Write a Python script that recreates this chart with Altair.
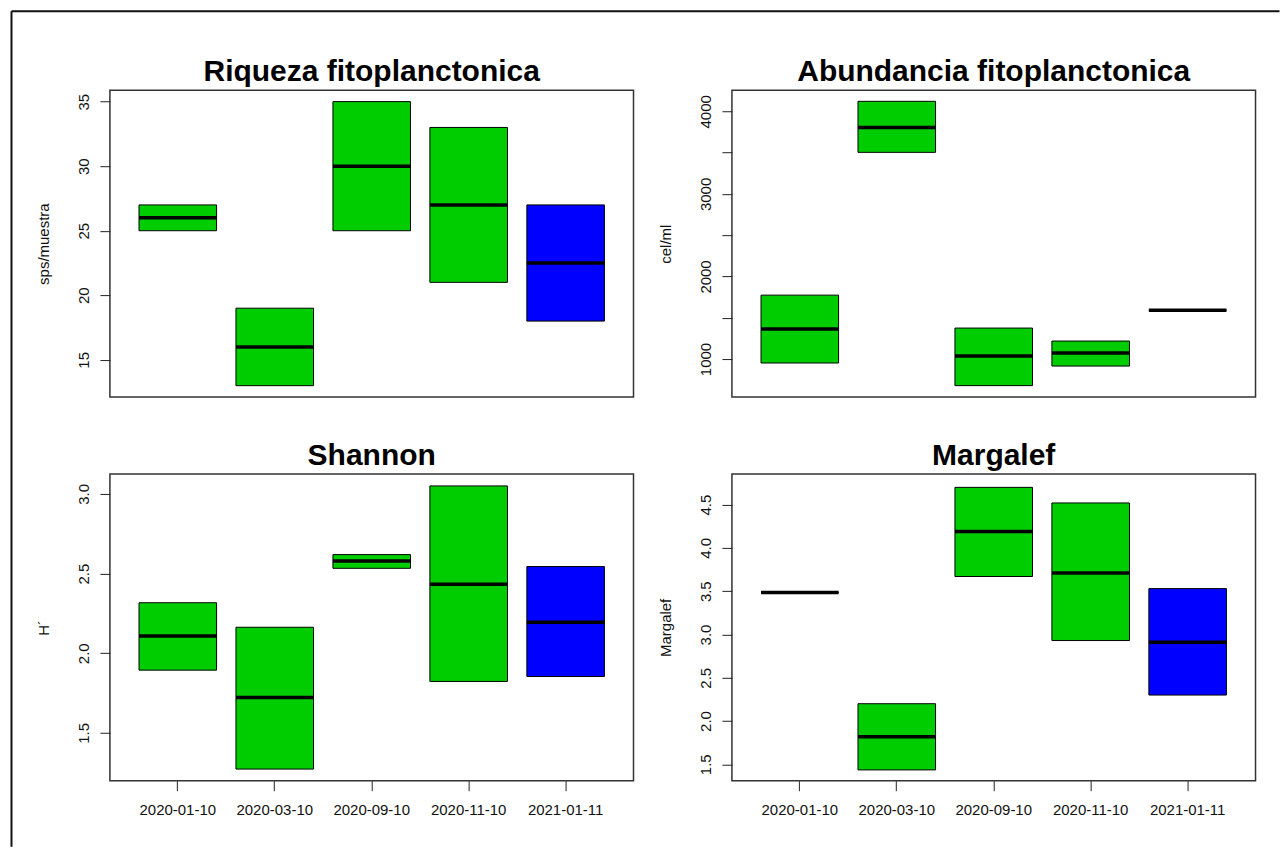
import altair as alt
import pandas as pd

# Sampling dates and box colours
fechas = ["2020-01-10", "2020-03-10", "2020-09-10", "2020-11-10", "2021-01-11"]
colores = ["#00CD00", "#00CD00", "#00CD00", "#00CD00", "#0000FF"]

# Riqueza (sps/muestra): lower edge, median, upper edge
riq_min = [25, 13, 25, 21, 18]
riq_med = [26, 16, 30, 27, 22.5]
riq_max = [27, 19, 35, 33, 27]

# Abundancia (cel/ml)
abu_min = [952, 3503, 678, 915, 1592]
abu_med = [1363, 3805, 1036, 1073, 1592]
abu_max = [1774, 4121, 1375, 1218, 1592]

# Shannon H'
sha_min = [1.894, 1.273, 2.533, 1.823, 1.854]
sha_med = [2.108, 1.723, 2.579, 2.433, 2.194]
sha_max = [2.317, 2.163, 2.619, 3.05, 2.544]

# Margalef
mar_min = [3.485, 1.435, 3.67, 2.93, 2.30]
mar_med = [3.485, 1.819, 4.19, 3.71, 2.91]
mar_max = [3.485, 2.20, 4.70, 4.52, 3.53]

# Axis ticks and limits
riq_ticks = [15, 20, 25, 30, 35]
abu_ticks = [1000, 1500, 2000, 2500, 3000, 3500, 4000]
sha_ticks = [1.5, 2.0, 2.5, 3.0]
mar_ticks = [1.5, 2.0, 2.5, 3.0, 3.5, 4.0, 4.5]
riq_lim = [12.12, 35.88]
abu_lim = [540, 4255]
sha_lim = [1.2, 3.125]
mar_lim = [1.31, 4.855]

W, H = 524, 307
FONT = "Liberation Sans"
TXT = "#111111"


def panel(titulo, ytitulo, lo, med, hi, lim, ticks, fmt, label_expr=None,
          show_x=False, marco=False):
    df = pd.DataFrame({"fecha": fechas, "lo": lo, "med": med, "hi": hi,
                       "color": colores})
    xscale = alt.Scale(domain=fechas, paddingInner=0.2, paddingOuter=0.3)
    yscale = alt.Scale(domain=lim, nice=False, zero=False)
    if show_x:
        xaxis = alt.Axis(title=None, labelAngle=0, tickSize=10, labelPadding=19,
                         labelFontSize=15, labelBaseline="middle", domain=False,
                         grid=False, tickColor="#222", labelColor=TXT, labelFont=FONT)
    else:
        xaxis = None
    ykw = dict(title=ytitulo, values=ticks, format=fmt, labelAngle=-90,
               labelAlign="center", labelBaseline="middle", labelPadding=16,
               tickSize=10, labelFontSize=15, titleFontSize=15,
               titleFontWeight="normal", titleAngle=-90, titleAlign="center",
               titleBaseline="middle", titleX=-66, titleY=H / 2, domain=False,
               grid=False, tickColor="#222", labelColor=TXT, titleColor=TXT,
               labelFont=FONT, titleFont=FONT, labelOverlap=False)
    if label_expr:
        ykw["labelExpr"] = label_expr
    yaxis = alt.Axis(**ykw)

    base = alt.Chart(df)
    cajas = base.mark_bar(stroke="black", strokeWidth=1).encode(
        x=alt.X("fecha:N", scale=xscale, axis=xaxis, sort=fechas),
        y=alt.Y("lo:Q", scale=yscale, axis=yaxis),
        y2="hi:Q",
        fill=alt.Fill("color:N", scale=None),
    )
    medianas = base.mark_tick(color="black", thickness=3.5, size=77.6, opacity=1).encode(
        x=alt.X("fecha:N", scale=xscale, axis=xaxis, sort=fechas),
        y=alt.Y("med:Q", scale=yscale, axis=yaxis),
    )
    capas = [cajas, medianas]
    # the outer frame widens this panel's bounds upward; the title is shifted back
    dy = 29
    if marco:
        uno = pd.DataFrame({"k": [0]})
        marco_v = alt.Chart(uno).mark_rule(color="#111", strokeWidth=2).encode(
            x=alt.value(-98.5), y=alt.value(-79), y2=alt.value(757))
        marco_h = alt.Chart(uno).mark_rule(color="#111", strokeWidth=2).encode(
            x=alt.value(-98.5), x2=alt.value(1170.5), y=alt.value(-79))
        capas += [marco_v, marco_h]
        dy = 29 + 80
    return alt.layer(*capas).properties(
        width=W, height=H,
        title=alt.TitleParams(text=titulo, fontSize=30, fontWeight="bold",
                              font=FONT, anchor="middle", baseline="alphabetic",
                              offset=8, dy=dy, color="black"),
    )


p1 = panel("Riqueza fitoplanctonica", "sps/muestra", riq_min, riq_med, riq_max,
           riq_lim, riq_ticks, "d", marco=True)
p2 = panel("Abundancia fitoplanctonica", "cel/ml", abu_min, abu_med, abu_max,
           abu_lim, abu_ticks, "d",
           label_expr="datum.value % 1000 == 0 ? datum.label : ''")
p3 = panel("Shannon", "H´", sha_min, sha_med, sha_max, sha_lim, sha_ticks, ".1f",
           show_x=True)
p4 = panel("Margalef", "Margalef", mar_min, mar_med, mar_max, mar_lim, mar_ticks,
           ".1f", show_x=True)

chart = alt.concat(
    p1, p2, p3, p4, columns=2, spacing={"row": 77, "column": 98.5}, bounds="flush"
).properties(
    padding={"left": 9, "top": 9, "right": 0, "bottom": 0},
    background="white",
).configure(
    font=FONT
).configure_view(
    stroke="#333333", strokeWidth=1.5
)

chart.save("out.html", embed_options={"renderer": "svg", "actions": False})
